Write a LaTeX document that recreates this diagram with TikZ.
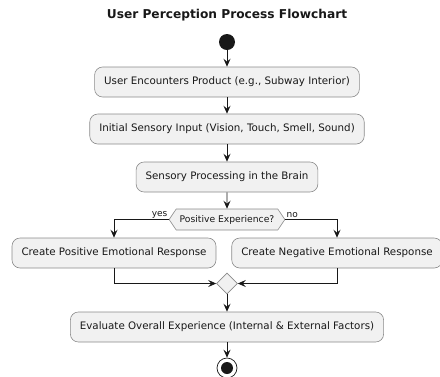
\documentclass[tikz,border=0pt]{standalone}
\usepackage{fontspec}
\setmainfont{DejaVu Sans}
\usepackage{tikz}
\usetikzlibrary{arrows.meta}
\usetikzlibrary{shapes.geometric}
\usetikzlibrary{shapes.symbols}

\definecolor{boxfill}{HTML}{F1F1F1}
\definecolor{boxline}{HTML}{8A8A8A}
\definecolor{ink}{HTML}{181818}

\tikzset{
  activity/.style={draw=boxline,fill=boxfill,rounded corners=8pt,line width=0.6pt,
    minimum height=30pt,inner xsep=9.5pt,font=\fontsize{10.3}{12}\selectfont,text=ink},
  decision/.style={signal,signal to=west and east,signal pointer angle=112,draw=boxline,
    fill=boxfill,line width=0.6pt,minimum height=21pt,inner xsep=3.5pt,inner ysep=2pt,
    font=\fontsize{9.2}{10}\selectfont,text=ink},
  merger/.style={diamond,draw=boxline,fill=boxfill,line width=0.6pt,minimum size=21pt,inner sep=0pt},
  flow/.style={draw=ink,line width=0.8pt,-{Stealth[length=8pt,width=7pt,inset=3pt]}},
  branch/.style={font=\fontsize{9}{10}\selectfont,text=ink}
}

\begin{document}
\begin{tikzpicture}[x=1pt,y=-1pt]
  % Boundary
  \path[use as bounding box] (0,0) rectangle (440,376);
  % Title
  \node[font=\bfseries\fontsize{12.2}{14}\selectfont,text=ink] (title) at (227,15) {User Perception Process Flowchart};
  % Start
  \node[circle,fill=ink,minimum size=16pt,inner sep=0pt] (start) at (227,42) {};
  % Activities
  \node[activity] (encounter) at (227,82) {User Encounters Product (e.g., Subway Interior)};
  \node[activity] (input) at (227,129) {Initial Sensory Input (Vision, Touch, Smell, Sound)};
  \node[activity] (brain) at (227,177) {Sensory Processing in the Brain};
  \node[decision] (positive) at (227,219.5) {Positive Experience?};
  \node[activity] (good) at (114,253) {Create Positive Emotional Response};
  \node[activity] (bad) at (337,253) {Create Negative Emotional Response};
  \node[merger] (join) at (227,283.5) {};
  \node[activity] (evaluate) at (227,327) {Evaluate Overall Experience (Internal \& External Factors)};
  % End
  \node[circle,draw=ink,fill=white,line width=0.7pt,minimum size=20pt,inner sep=0pt] (stop) at (227,368) {};
  \fill[ink] (stop.center) circle (6pt);
  % Connectors
  \draw[flow] (start) -- (encounter);
  \draw[flow] (encounter) -- (input);
  \draw[flow] (input) -- (brain);
  \draw[flow] (brain) -- (positive);
  \draw[flow] (positive.west) -| (good.north) node[branch,pos=0,above left,inner sep=1pt] {yes};
  \draw[flow] (positive.east) -| (bad.north) node[branch,pos=0,above right,inner sep=1pt] {no};
  \draw[flow] (good.south) |- (join.west);
  \draw[flow] (bad.south) |- (join.east);
  \draw[flow] (join) -- (evaluate);
  \draw[flow] (evaluate) -- (stop);
\end{tikzpicture}
\end{document}
